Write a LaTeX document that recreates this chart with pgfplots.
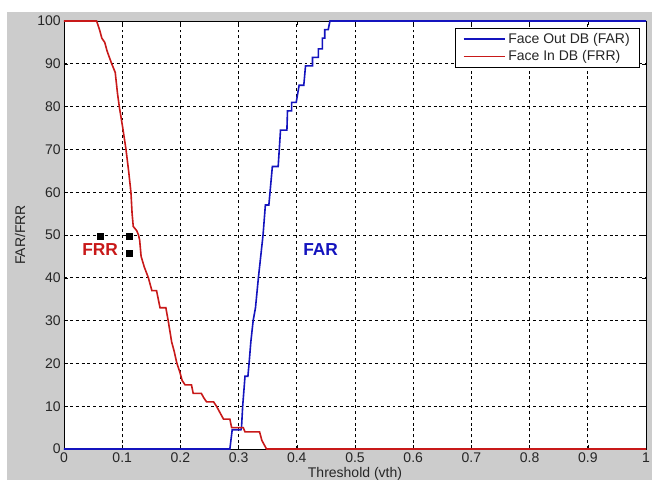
\documentclass[border=0pt]{standalone}
\usepackage{pgfplots}
\pgfplotsset{compat=1.18}
\usepackage{fontspec}
\setmainfont{Liberation Sans}
\definecolor{farblue}{RGB}{20,20,190}
\definecolor{frrred}{RGB}{200,25,25}
\definecolor{figgray}{RGB}{204,204,204}
\begin{document}
\begin{tikzpicture}
\useasboundingbox (-48pt,-23.25pt) rectangle (441pt,336.75pt);
\fill[white] (-48pt,-23.25pt) rectangle (441pt,336.75pt);
\fill[figgray] (-42.75pt,-23.25pt) rectangle (441pt,327.75pt);
\begin{axis}[
  at={(0,0)}, anchor=south west,
  scale only axis, width=436.5pt, height=321pt,
  xmin=0, xmax=1, ymin=0, ymax=100,
  xtick={0,0.1,...,1}, ytick={0,10,...,100},
  xticklabels={0,0.1,0.2,0.3,0.4,0.5,0.6,0.7,0.8,0.9,1},
  axis background/.style={fill=white},
  grid=major,
  major grid style={black, line width=0.5pt, dash pattern=on 2.2pt off 2.2pt},
  tick align=inside, major tick length=3pt,
  tick style={black, line width=0.4pt},
  axis line style={black, line width=0.5pt},
  /pgf/number format/assume math mode=true,
  tick label style={font=\fontsize{10.5}{12}\selectfont, text=black!85},
  xticklabel style={yshift=1pt},
  yticklabel style={xshift=1pt},
  xlabel={Threshold (vth)},
  ylabel={FAR/FRR},
  label style={font=\fontsize{10.5}{12}\selectfont, text=black!85},
  xlabel style={at={(axis description cs:0.5,0)}, anchor=center, yshift=-19pt},
  ylabel style={at={(axis description cs:-0.0756,0.5)}, anchor=center},
  legend style={at={(rel axis cs:1,1)}, anchor=north east, xshift=-4.5pt, yshift=-5.25pt,
    font=\fontsize{10.5}{12.5}\selectfont, draw=black, line width=0.5pt,
    inner xsep=5.5pt, inner ysep=1.5pt,
    cells={anchor=west}, text=black!85},
  legend image code/.code={\draw[#1, line width=1.2pt] (0pt,0pt) -- (31pt,0pt);},
  clip=false,
]
\addplot[farblue, line width=1.2pt] coordinates {
(0,0) (0.285,0) (0.289,4.5) (0.304,4.5) (0.305,5) (0.307,10) (0.311,17) (0.316,17)
(0.318,20) (0.321,25) (0.325,30) (0.329,33) (0.334,40) (0.338,45) (0.342,50)
(0.346,57) (0.352,57) (0.354,60) (0.358,66) (0.368,66) (0.372,74.5) (0.383,74.5)
(0.384,79) (0.391,79) (0.391,81) (0.399,81) (0.404,85) (0.412,85) (0.415,89.5)
(0.427,89.5) (0.427,91.5) (0.437,91.5) (0.437,93.5) (0.444,93.5) (0.444,96)
(0.448,96) (0.448,98) (0.454,98) (0.457,100) (1,100)
};
\addlegendentry{Face Out DB (FAR)}
\addplot[frrred, line width=1.2pt] coordinates {
(0,100) (0.056,100) (0.061,98) (0.065,96) (0.070,95) (0.074,93) (0.078,91.5)
(0.082,90) (0.088,88) (0.092,83) (0.095,80) (0.101,75) (0.1065,70) (0.111,65)
(0.115,60) (0.117,55) (0.119,52) (0.125,51) (0.128,50) (0.130,48.8) (0.1325,45)
(0.138,42.5) (0.145,40) (0.151,37) (0.159,37) (0.165,33) (0.175,33) (0.179,30)
(0.185,25) (0.189,23) (0.194,20) (0.199,18) (0.203,16) (0.208,15) (0.219,15)
(0.222,13) (0.236,13) (0.24,12) (0.245,11) (0.257,11) (0.262,10) (0.268,8.5)
(0.274,7) (0.285,7) (0.288,5) (0.308,5) (0.311,4) (0.336,4) (0.34,2) (0.348,0) (1,0)
};
\addlegendentry{Face In DB (FRR)}
\addplot[only marks, mark=square*, mark size=2.2pt, black, forget plot] coordinates {
(0.062,49.7) (0.112,49.7) (0.112,45.7)
};
\node[text=frrred, font=\fontsize{13}{15}\selectfont\bfseries] at (axis cs:0.062,46.6) {FRR};
\node[text=farblue, font=\fontsize{13}{15}\selectfont\bfseries] at (axis cs:0.441,46.6) {FAR};
\end{axis}
\end{tikzpicture}
\end{document}
